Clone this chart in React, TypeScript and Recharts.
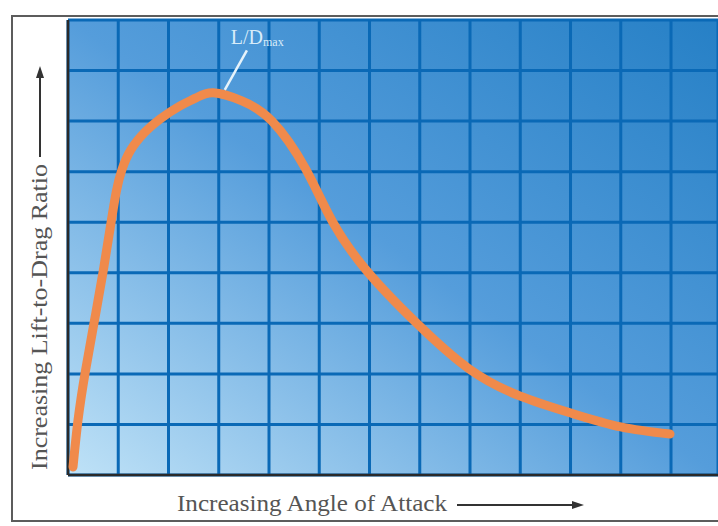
import {
  LineChart,
  Line,
  XAxis,
  YAxis,
  CartesianGrid,
  ReferenceLine,
  ReferenceDot,
} from "recharts";

// angle of attack (grid units) vs lift-to-drag ratio (grid units)
const angle = [
  0.1, 0.2, 0.34, 0.52, 0.7, 0.84, 0.96, 1.07, 1.25, 1.53, 1.83, 2.23, 2.55,
  2.89, 3.46, 4.06, 4.72, 5.27, 5.97, 6.91, 7.98, 9.0, 9.99, 11.0, 11.98,
];
const ratio = [
  0.16, 1.09, 2.02, 3.02, 4.03, 4.89, 5.6, 6.03, 6.43, 6.78, 7.04, 7.3, 7.46,
  7.56, 7.4, 7.0, 6.07, 5.0, 4.01, 3.03, 2.1, 1.56, 1.23, 0.95, 0.81,
];

const xTicks = [0, 1, 2, 3, 4, 5, 6, 7, 8, 9, 10, 11, 12];
const yTicks = [0, 1, 2, 3, 4, 5, 6, 7, 8];

const xLabel = "Increasing Angle of Attack";
const yLabel = "Increasing Lift-to-Drag Ratio";
const peakLabel = "L/D";
const peakSub = "max";

const data = angle.map((a, i) => ({ angle: a, ratio: ratio[i] }));

const serif = "'Liberation Serif', 'DejaVu Serif', serif";

const PeakLabel = (props: any) => {
  const vb = props.viewBox || {};
  return (
    <text x={vb.x} y={vb.y} fill="#d8ecf9" fontFamily={serif} fontSize={20}>
      {peakLabel}
      <tspan fontSize={12} dy={2}>
        {peakSub}
      </tspan>
    </text>
  );
};

const App = () => {
  return (
    <div
      style={{
        position: "absolute",
        left: 0,
        top: 0,
        width: 718,
        height: 526,
        overflow: "hidden",
        background: "#fff",
      }}
    >
      {/* outer frame */}
      <div
        style={{
          position: "absolute",
          left: 11,
          top: 15,
          width: 720,
          height: 507,
          border: "2px solid #5c5c5c",
          boxSizing: "border-box",
        }}
      />
      <div style={{ position: "absolute", left: 0, top: 0 }}>
        <LineChart width={718} height={526} data={data} margin={{ top: 20, right: 0, bottom: 51, left: 68 }}>
          <defs>
            <linearGradient id="bgGrad" x1="0" y1="1" x2="1" y2="0">
              <stop offset="0%" stopColor="#bfe2f7" />
              <stop offset="50%" stopColor="#559ddb" />
              <stop offset="100%" stopColor="#2680c6" />
            </linearGradient>
          </defs>
          <CartesianGrid
            stroke="#0a69b6"
            strokeWidth={3}
            fill="url(#bgGrad)"
            fillOpacity={1}
          />
          <XAxis
            hide
            type="number"
            dataKey="angle"
            domain={[0, 12.935]}
            ticks={xTicks}
            allowDataOverflow
          />
          <YAxis hide type="number" domain={[0, 9]} ticks={yTicks} allowDataOverflow />
          <ReferenceLine x={0} stroke="#2a2a2a" strokeWidth={2.5} />
          <ReferenceLine y={0} stroke="#2a2a2a" strokeWidth={2.5} />
          <Line
            type="natural"
            dataKey="ratio"
            stroke="#f08a4b"
            strokeWidth={9}
            strokeLinecap="round"
            strokeLinejoin="round"
            dot={false}
            isAnimationActive={false}
          />
          <ReferenceLine
            segment={[
              { x: 3.56, y: 8.4 },
              { x: 3.12, y: 7.62 },
            ]}
            stroke="#e6f3fb"
            strokeWidth={2.5}
          />
          <ReferenceDot
            x={3.26}
            y={8.5}
            r={1}
            fill="none"
            stroke="none"
            label={{ content: PeakLabel }}
          />
        </LineChart>
      </div>
      {/* axis titles with arrows */}
      <svg width={718} height={526} style={{ position: "absolute", left: 0, top: 0 }}>
        <text
          x={177}
          y={511}
          fill="#555"
          fontFamily={serif}
          fontSize={23}
          textLength={270}
          lengthAdjust="spacingAndGlyphs"
        >
          {xLabel}
        </text>
        <line x1={457} y1={505} x2={575} y2={505} stroke="#333" strokeWidth={2} />
        <path d="M584 505 L572 501 L572 509 Z" fill="#333" />
        <text
          transform="translate(47,470) rotate(-90)"
          fill="#555"
          fontFamily={serif}
          fontSize={23}
          textLength={306}
          lengthAdjust="spacingAndGlyphs"
        >
          {yLabel}
        </text>
        <line x1={40} y1={157} x2={40} y2={76} stroke="#333" strokeWidth={2} />
        <path d="M40 66 L36 78 L44 78 Z" fill="#333" />
      </svg>
    </div>
  );
};

export default App;
